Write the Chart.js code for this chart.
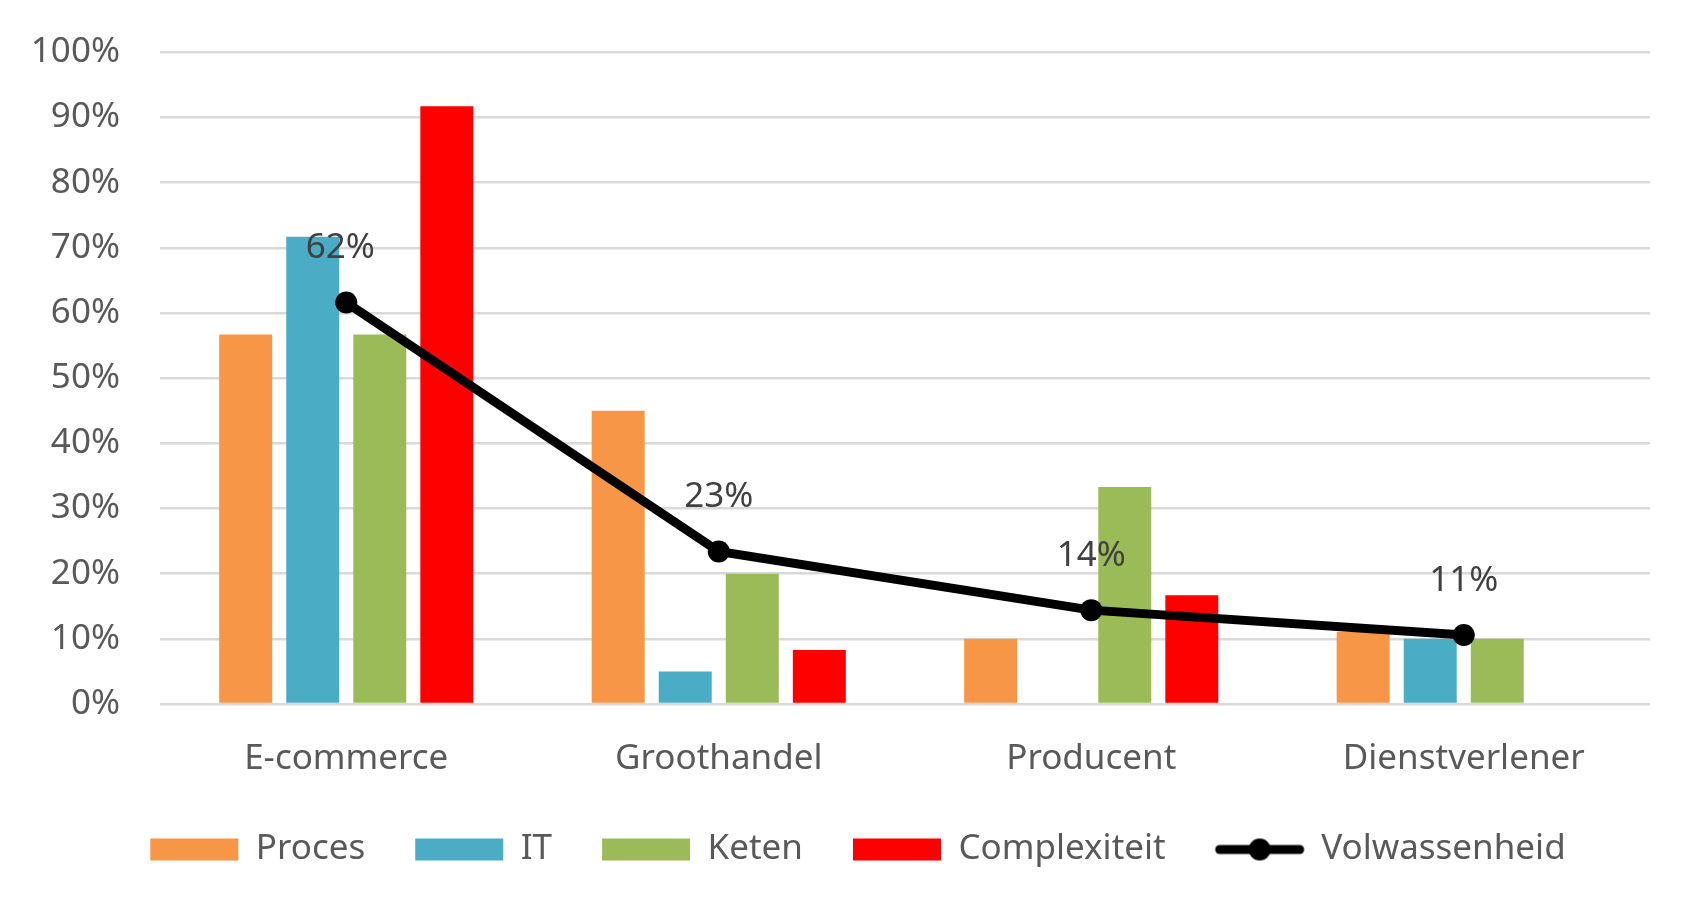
<!DOCTYPE html>
<html>
<head>
<meta charset="utf-8">
<script src="https://cdn.jsdelivr.net/npm/chart.js@4/dist/chart.umd.min.js"></script>
<style>
  html, body { margin: 0; padding: 0; background: #ffffff; }
  #wrap { width: 1701px; height: 914px; }
</style>
</head>
<body>
<div id="wrap"><canvas id="chart"></canvas></div>
<script>
var categories = ["E-commerce", "Groothandel", "Producent", "Dienstverlener"];
var proces = [56.7, 45.0, 10.0, 11.1];
var it = [71.7, 5.0, 0, 10.0];
var keten = [56.7, 20.0, 33.3, 10.0];
var complexiteit = [91.7, 8.3, 16.7, 0];
var volwassenheid = [61.6, 23.4, 14.4, 10.6];
var yMin = 0;
var yMax = 100;
var yStep = 10;

var FONT = "'Noto Sans', 'Open Sans', sans-serif";

// legend marker for the line series: thick line with a dot
function lineMarker() {
  var c = document.createElement("canvas");
  c.width = 92;
  c.height = 26;
  var g = c.getContext("2d");
  g.strokeStyle = "#000000";
  g.lineWidth = 9;
  g.lineCap = "round";
  g.beginPath();
  g.moveTo(6, 13);
  g.lineTo(86, 13);
  g.stroke();
  g.fillStyle = "#000000";
  g.beginPath();
  g.arc(46, 13, 11, 0, Math.PI * 2);
  g.fill();
  return c;
}
var marker = lineMarker();

var lineLabels = {
  id: "lineLabels",
  afterDatasetsDraw: function (chart) {
    var ctx = chart.ctx;
    var meta = chart.getDatasetMeta(4);
    ctx.save();
    ctx.font = "35px " + FONT;
    ctx.fillStyle = "#404040";
    ctx.textAlign = "center";
    ctx.textBaseline = "middle";
    meta.data.forEach(function (pt, i) {
      var dx = i === 0 ? -6 : 0;
      ctx.fillText(Math.round(volwassenheid[i]) + "%", pt.x + dx, pt.y - 54);
    });
    ctx.restore();
  }
};

var chart = new Chart(document.getElementById("chart"), {
  data: {
    labels: categories,
    datasets: [
      { type: "bar", label: "Proces", data: proces, backgroundColor: "#F79646", order: 1 },
      { type: "bar", label: "IT", data: it, backgroundColor: "#4BACC6", order: 1 },
      { type: "bar", label: "Keten", data: keten, backgroundColor: "#9BBB59", order: 1 },
      { type: "bar", label: "Complexiteit", data: complexiteit, backgroundColor: "#FF0000", order: 1 },
      {
        type: "line",
        label: "Volwassenheid",
        data: volwassenheid,
        borderColor: "#000000",
        backgroundColor: "#000000",
        borderWidth: 9,
        pointRadius: 11,
        pointHoverRadius: 11,
        pointBackgroundColor: "#000000",
        pointBorderWidth: 0,
        tension: 0,
        order: 0
      }
    ]
  },
  options: {
    responsive: true,
    maintainAspectRatio: false,
    animation: false,
    categoryPercentage: 0.72,
    barPercentage: 0.79,
    layout: {
      padding: { top: 0, left: 30, right: 51, bottom: 37 }
    },
    plugins: {
      tooltip: { enabled: false },
      legend: {
        position: "bottom",
        labels: {
          usePointStyle: true,
          pointStyleWidth: 88,
          boxHeight: 22,
          padding: 50,
          color: "#595959",
          font: { family: FONT, size: 35 },
          sort: function (a, b) {
            return a.datasetIndex - b.datasetIndex;
          },
          generateLabels: function (chart) {
            var items = Chart.defaults.plugins.legend.labels.generateLabels(chart);
            items.forEach(function (item) {
              item.pointStyle = item.datasetIndex === 4 ? marker : "rect";
              item.lineWidth = 0;
            });
            return items;
          }
        }
      }
    },
    scales: {
      x: {
        grid: { display: false },
        border: { display: false },
        afterFit: function (scale) {
          scale.height -= 24;
        },
        ticks: {
          padding: 26,
          color: "#595959",
          font: { family: FONT, size: 35 }
        }
      },
      y: {
        min: yMin,
        max: yMax,
        border: { display: false },
        grid: { color: "#D9D9D9", lineWidth: 2.5, drawTicks: false },
        afterFit: function (scale) {
          scale.width = 130;
        },
        ticks: {
          stepSize: yStep,
          padding: 40,
          color: "#595959",
          font: { family: FONT, size: 35, lineHeight: 0.7 },
          callback: function (v) {
            return v + "%";
          }
        }
      }
    }
  },
  plugins: [lineLabels]
});

// the legend row sits a little right of the canvas centre in the original
var legendDraw = chart.legend.draw;
chart.legend.draw = function () {
  var ctx = this.ctx;
  ctx.save();
  ctx.translate(18, 0);
  legendDraw.apply(this, arguments);
  ctx.restore();
};
chart.draw();
</script>
</body>
</html>
